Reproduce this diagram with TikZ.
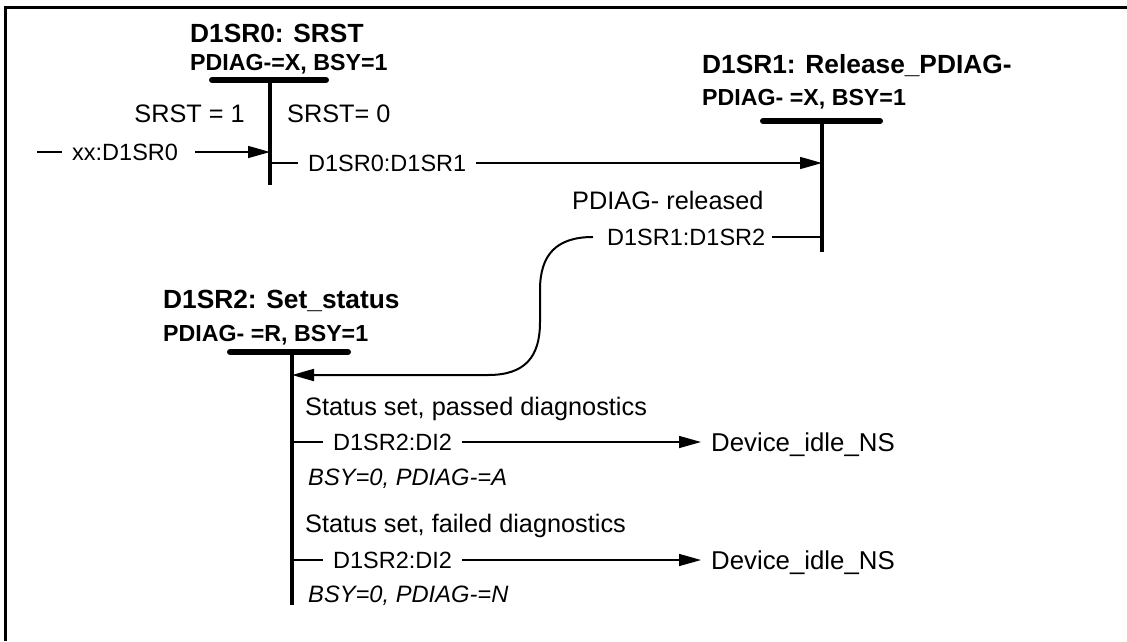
\documentclass[tikz,border=0pt]{standalone}
\usepackage{fontspec}
\setmainfont{Liberation Sans}
\usetikzlibrary{arrows.meta}
\begin{document}
\begin{tikzpicture}[x=1pt,y=-1pt,
  title/.style={font=\fontsize{26.3}{30}\selectfont\bfseries, anchor=base west, inner sep=0pt},
  subtitle/.style={font=\fontsize{23.2}{27}\selectfont\bfseries, anchor=base west, inner sep=0pt},
  lbl/.style={font=\fontsize{25.3}{30}\selectfont, inner sep=0pt},
  trans/.style={font=\fontsize{23.5}{28}\selectfont, inner sep=0pt, text depth=0pt, anchor=west},
  target/.style={font=\fontsize{25.8}{30}\selectfont, inner sep=0pt, text depth=0pt, anchor=west},
  note/.style={font=\fontsize{23.7}{28}\selectfont\itshape, anchor=base west, inner sep=0pt},
  bar/.style={line width=6pt, line cap=round},
  life/.style={line width=3.2pt},
  conn/.style={line width=1.5pt},
  arr/.style={conn, -{Triangle[length=22pt,width=12pt]}},
]
\useasboundingbox (0,0) rectangle (1127,641);
% frame
\coordinate (fbl) at (5,641);
\coordinate (ftl) at (5,7);
\coordinate (ftr) at (1127,7);
\draw[line width=3pt] (fbl) -- (ftl) -- (ftr);

% ---------- D1SR0 ----------
\node[title] (t0) at (190,42) {D1SR0: SRST};
\node[subtitle] (st0) at (190,70) {PDIAG-=X, BSY=1};
\coordinate (b0l) at (212,80);
\coordinate (b0r) at (326,80);
\draw[bar] (b0l) -- (b0r);
\coordinate (v0t) at (270,80);
\coordinate (v0b) at (270,185);
\draw[life] (v0t) -- (v0b);
\node[lbl, anchor=base east] (srst1) at (245,122) {SRST = 1};
\node[lbl, anchor=base west] (srst0) at (287,122) {SRST= 0};

% entry transition
\coordinate (xs) at (37,152);
\node[trans] (xx) at (72,152) {xx:D1SR0};
\coordinate (v0in) at (270,152);
\draw[conn] (xs) -- ([xshift=-10pt]xx.west);
\draw[arr] ([xshift=17pt]xx.east) -- (v0in);

% D1SR0 -> D1SR1
\coordinate (v0out) at (270,163);
\node[trans] (t01) at (308,163) {D1SR0:D1SR1};
\coordinate (v1in) at (822,163);
\draw[conn] (v0out) -- ([xshift=-10pt]t01.west);
\draw[arr] ([xshift=10pt]t01.east) -- (v1in);

% ---------- D1SR1 ----------
\node[title] (t1) at (702,73) {D1SR1: Release\_PDIAG-};
\node[subtitle] (st1) at (702,105) {PDIAG- =X, BSY=1};
\coordinate (b1l) at (763,121);
\coordinate (b1r) at (880,121);
\draw[bar] (b1l) -- (b1r);
\coordinate (v1t) at (822,121);
\coordinate (v1b) at (822,252);
\draw[life] (v1t) -- (v1b);
\node[lbl, anchor=base west] (rel) at (572,209) {PDIAG- released};

% D1SR1 -> D1SR2
\coordinate (v1out) at (822,237);
\node[trans] (t12) at (607,237) {D1SR1:D1SR2};
\coordinate (v2in) at (292,375);
\draw[conn] (v1out) -- ([xshift=7pt]t12.east);
\draw[conn, line width=2pt, -{Triangle[length=22pt,width=12pt]}] ([xshift=-14pt]t12.west)
  .. controls (556,237) and (540,255) .. (540,290) -- (540,322)
  .. controls (540,357) and (525,375) .. (488,375) -- (v2in);

% ---------- D1SR2 ----------
\node[title] (t2) at (163,308) {D1SR2: Set\_status};
\node[subtitle] (st2) at (163,341) {PDIAG- =R, BSY=1};
\coordinate (b2l) at (230,352);
\coordinate (b2r) at (348,352);
\draw[bar] (b2l) -- (b2r);
\coordinate (v2t) at (292,352);
\coordinate (v2b) at (292,605);
\draw[life] (v2t) -- (v2b);

% passed
\node[lbl, anchor=base west] (pass) at (305,415) {Status set, passed diagnostics};
\coordinate (v2a) at (292,442);
\node[trans] (t2a) at (333,442) {D1SR2:DI2};
\node[target] (idle1) at (711,442) {Device\_idle\_NS};
\draw[conn] (v2a) -- ([xshift=-10pt]t2a.west);
\draw[arr] ([xshift=10pt]t2a.east) -- ([xshift=-10pt]idle1.west);
\node[note] (na) at (308,485) {BSY=0, PDIAG-=A};

% failed
\node[lbl, anchor=base west] (fail) at (305,532) {Status set, failed diagnostics};
\coordinate (v2b2) at (292,560);
\node[trans] (t2b) at (333,560) {D1SR2:DI2};
\node[target] (idle2) at (711,560) {Device\_idle\_NS};
\draw[conn] (v2b2) -- ([xshift=-10pt]t2b.west);
\draw[arr] ([xshift=10pt]t2b.east) -- ([xshift=-10pt]idle2.west);
\node[note] (nb) at (308,602) {BSY=0, PDIAG-=N};
\end{tikzpicture}
\end{document}
